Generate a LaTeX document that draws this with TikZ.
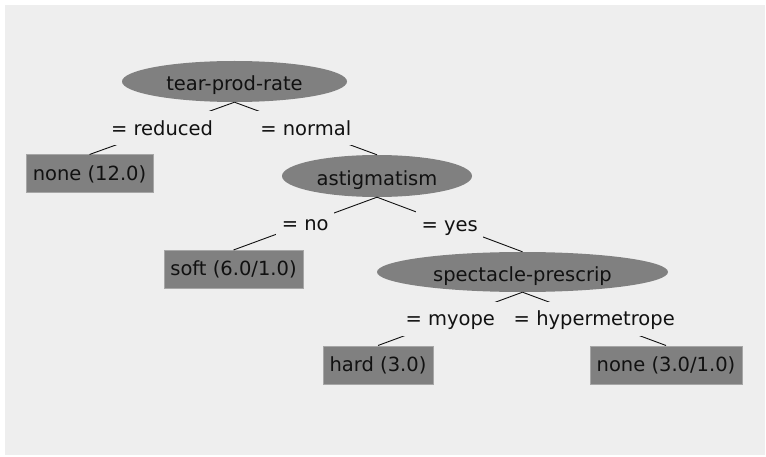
\documentclass[tikz,border=0pt]{standalone}
\usepackage{fontspec}
\setmainfont{DejaVu Sans}
\usetikzlibrary{shapes.geometric}
\definecolor{canvas}{HTML}{EEEEEE}
\definecolor{nodefill}{HTML}{808080}
\definecolor{leafrim}{HTML}{A6A6A6}
\definecolor{ink}{HTML}{111111}
\tikzset{
  every node/.style={font=\fontsize{19.5pt}{23pt}\selectfont, text=ink},
  split/.style={ellipse, fill=nodefill, inner sep=0pt,
    text height=20pt, text depth=1pt},
  leaf/.style={rectangle, fill=nodefill, draw=leafrim, line width=1pt,
    inner sep=0pt, minimum height=38pt, text height=17pt, text depth=4pt},
  branch/.style={fill=canvas, inner xsep=5.5pt, inner ysep=6pt,
    text height=18pt, text depth=4pt},
  edge/.style={draw=ink, line width=0.9pt}
}
\begin{document}
\begin{tikzpicture}[x=1pt, y=-1pt]
  \useasboundingbox (0,0) rectangle (766,457);
  \fill[white] (0,0) rectangle (766,457);
  \fill[canvas] (5,5) rectangle (765,455);

  % inner nodes
  \node[split, minimum width=225pt, minimum height=41pt] (tear) at (234.5,81.5) {tear-prod-rate};
  \node[split, minimum width=190pt, minimum height=42pt] (astig) at (377,176) {astigmatism};
  \node[split, minimum width=291pt, minimum height=40pt] (spec) at (522.5,272) {spectacle-prescrip};

  % leaves
  \node[leaf, minimum width=127pt] (none1) at (89.5,174) {none (12.0)};
  \node[leaf, minimum width=139pt] (soft) at (233.5,269.5) {soft (6.0/1.0)};
  \node[leaf, minimum width=110pt] (hard) at (378,365) {hard (3.0)};
  \node[leaf, minimum width=152pt] (none2) at (666,365) {none (3.0/1.0)};

  % branches with their test values
  \path[edge] (tear.south) -- node[branch] (bred) {= reduced} (none1.north);
  \path[edge] (tear.south) -- node[branch] (bnorm) {= normal} (astig.north);
  \path[edge] (astig.south) -- node[branch] (bno) {= no} (soft.north);
  \path[edge] (astig.south) -- node[branch] (byes) {= yes} (spec.north);
  \path[edge] (spec.south) -- node[branch] (bmyo) {= myope} (hard.north);
  \path[edge] (spec.south) -- node[branch] (bhyp) {= hypermetrope} (none2.north);
\end{tikzpicture}
\end{document}
